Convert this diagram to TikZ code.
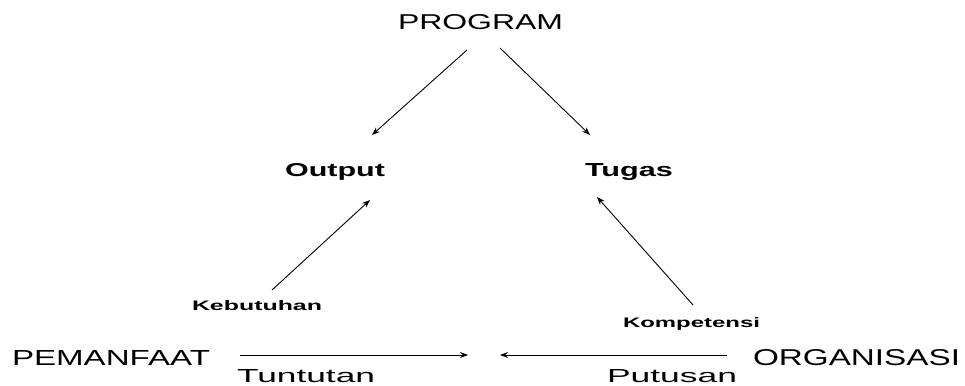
\documentclass[tikz,border=0pt]{standalone}
\usepackage{fontspec}
\setmainfont{Liberation Sans}
\usepackage{graphicx}
\usetikzlibrary{arrows.meta}
\newcommand{\fitw}[3]{\resizebox{#1pt}{#2pt}{#3}}
\tikzset{
  lbl/.style={inner sep=0pt, outer sep=0pt, anchor=north west, text=black},
  arr/.style={draw=black, line width=0.9pt, -{Stealth[length=8pt,width=6pt]}},
}
\begin{document}
\begin{tikzpicture}[x=1pt,y=-1pt]
\useasboundingbox[fill=white] (0,0) rectangle (965,385);
% texts
\node[lbl] (prog) at (398,15) {\fitw{165}{15}{PROGRAM}};
\node[lbl] (out) at (285,163) {\fitw{100}{13}{\bfseries Output}};
\node[lbl] (tug) at (585,163) {\fitw{88}{13}{\bfseries Tugas}};
\node[lbl] (keb) at (192,300) {\fitw{130}{10}{\bfseries Kebutuhan}};
\node[lbl] (kom) at (623,317) {\fitw{137}{10}{\bfseries Kompetensi}};
\node[lbl] (pem) at (12,350) {\fitw{198}{15}{PEMANFAAT}};
\node[lbl] (org) at (753,349) {\fitw{207}{16}{ORGANISASI}};
\node[lbl] (tun) at (237,369) {\fitw{138}{13}{Tuntutan}};
\node[lbl] (put) at (607,369) {\fitw{130}{13}{Putusan}};
% arrow end points
\coordinate (a1) at (467,50);  \coordinate (a2) at (372,135);
\coordinate (b1) at (500,48);  \coordinate (b2) at (590,135);
\coordinate (c1) at (272,290); \coordinate (c2) at (370,200);
\coordinate (d1) at (693,305); \coordinate (d2) at (597,197);
\coordinate (e1) at (240,355); \coordinate (e2) at (468,355);
\coordinate (f1) at (727,355); \coordinate (f2) at (500,355);
% connectors
\draw[arr] (a1) -- (a2);
\draw[arr] (b1) -- (b2);
\draw[arr] (c1) -- (c2);
\draw[arr] (d1) -- (d2);
\draw[arr] (e1) -- (e2);
\draw[arr] (f1) -- (f2);
\end{tikzpicture}
\end{document}
